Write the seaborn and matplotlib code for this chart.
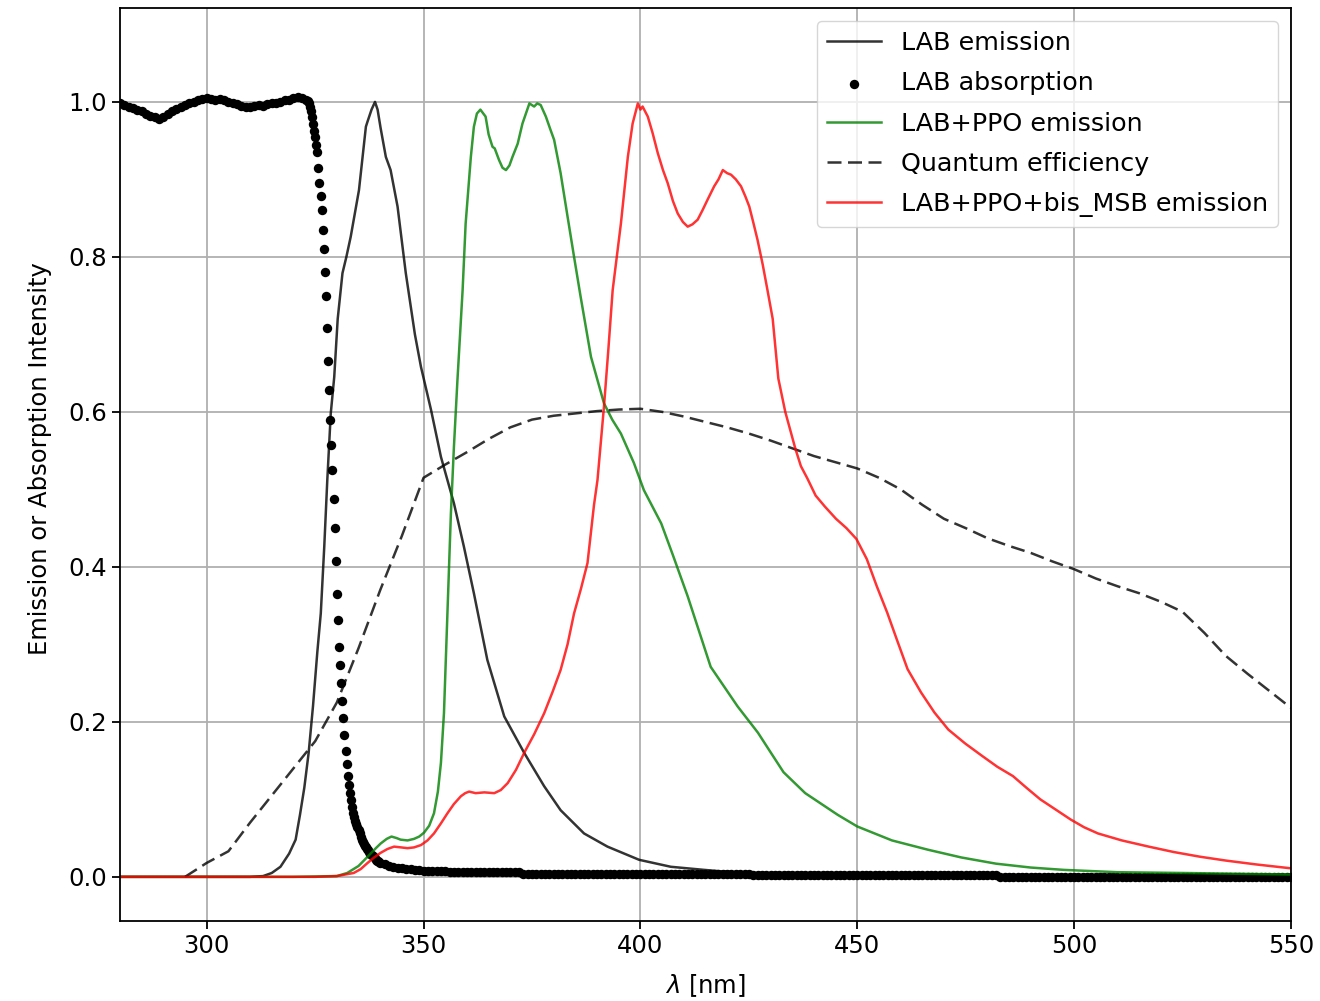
import numpy as np
import matplotlib
matplotlib.use("Agg")
import matplotlib.pyplot as plt
import seaborn as sns

# ---------------------------------------------------------------- data
# LAB emission
lab_em_wl = [280, 300, 310, 313, 315, 317, 319, 320.5, 321.5, 322.5, 323.5, 324.5,
             325.5, 326.3, 327.1, 327.8, 328.6, 329.4, 330.2, 331.3, 332.2, 333.2,
             335.1, 336.7, 337.1, 338.0, 338.8, 339.4, 340.1, 341.3, 342.4, 344.0,
             345.9, 348.0, 349.4, 351.7, 354.0, 355.9, 357.0, 359.3, 361.6, 364.7,
             368.6, 373.2, 377.8, 381.6, 387.0, 392.4, 399.7, 407.0, 414.7, 425.0,
             440.0, 460.0, 550.0]
lab_em = [0.0, 0.0, 0.0, 0.001, 0.005, 0.013, 0.03, 0.048, 0.08, 0.115, 0.16, 0.22,
          0.29, 0.34, 0.426, 0.512, 0.598, 0.645, 0.72, 0.779, 0.80, 0.826,
          0.886, 0.968, 0.975, 0.99, 1.0, 0.99, 0.966, 0.929, 0.912, 0.865,
          0.779, 0.70, 0.658, 0.603, 0.542, 0.504, 0.482, 0.426, 0.366, 0.28,
          0.207, 0.16, 0.117, 0.086, 0.056, 0.039, 0.022, 0.013, 0.009, 0.004,
          0.001, 0.0, 0.0]

# LAB absorption: plateau (1 nm), absorption edge (0.25 nm), tail (1 nm)
abs_wl_plateau = np.arange(280, 324, 1.0)
abs_plateau = [0.998, 0.996, 0.993, 0.992, 0.990, 0.988, 0.985, 0.982, 0.980, 0.978,
               0.980, 0.984, 0.988, 0.991, 0.994, 0.996, 0.998, 1.000, 1.002, 1.004,
               1.005, 1.004, 1.003, 1.004, 1.002, 1.000, 0.998, 0.997, 0.995, 0.993,
               0.993, 0.995, 0.996, 0.995, 0.997, 0.999, 0.998, 1.000, 1.002, 1.003,
               1.005, 1.006, 1.005, 1.003]
abs_wl_edge = np.arange(323.25, 340.01, 0.25)
abs_edge = [1.001, 0.998, 0.993, 0.988, 0.980, 0.972, 0.963, 0.955, 0.945, 0.935,
            0.915, 0.895, 0.878, 0.860, 0.835, 0.810, 0.780, 0.750, 0.708, 0.665,
            0.628, 0.590, 0.557, 0.525, 0.488, 0.450, 0.408, 0.365, 0.331, 0.297,
            0.273, 0.250, 0.227, 0.205, 0.183, 0.162, 0.146, 0.130, 0.119, 0.108,
            0.099, 0.090, 0.083, 0.077, 0.072, 0.068, 0.064, 0.060, 0.056, 0.052,
            0.048, 0.045, 0.043, 0.040, 0.038, 0.036, 0.034, 0.032, 0.030, 0.028,
            0.027, 0.025, 0.024, 0.022, 0.021, 0.020, 0.019, 0.018]
abs_wl_tail = np.arange(341, 551, 1.0)
abs_tail = [0.016, 0.014, 0.013, 0.012, 0.011, 0.010, 0.010, 0.009, 0.009, 0.008,
            0.008, 0.008, 0.007, 0.007, 0.007,
            0.006, 0.006, 0.006, 0.006, 0.006, 0.006, 0.006, 0.006, 0.006, 0.006,
            0.006, 0.006, 0.006, 0.006, 0.006, 0.006, 0.006,
            0.004, 0.004, 0.004, 0.004, 0.004, 0.004, 0.004, 0.004, 0.004, 0.004,
            0.004, 0.004, 0.004, 0.004, 0.004, 0.004, 0.004, 0.004, 0.004, 0.004,
            0.004, 0.004, 0.004, 0.004, 0.004, 0.004, 0.004, 0.004, 0.004, 0.004,
            0.004, 0.004, 0.004, 0.004, 0.004, 0.004, 0.004, 0.004, 0.004, 0.004,
            0.004, 0.004, 0.004, 0.004, 0.004, 0.004, 0.004, 0.004, 0.004, 0.004,
            0.004, 0.004, 0.004,
            0.002, 0.002, 0.002, 0.002, 0.002, 0.002, 0.002, 0.002, 0.002, 0.002,
            0.002, 0.002, 0.002, 0.002, 0.002, 0.002, 0.002, 0.002, 0.002, 0.002,
            0.002, 0.002, 0.002, 0.002, 0.002, 0.002, 0.002, 0.002, 0.002, 0.002,
            0.002, 0.002, 0.002, 0.002, 0.002, 0.002, 0.002, 0.002, 0.002, 0.002,
            0.002, 0.002, 0.002, 0.002, 0.002, 0.002, 0.002, 0.002, 0.002, 0.002,
            0.002, 0.002, 0.002, 0.002, 0.002, 0.002, 0.002,
            0.000, 0.000, 0.000, 0.000, 0.000, 0.000, 0.000, 0.000, 0.000, 0.000,
            0.000, 0.000, 0.000, 0.000, 0.000, 0.000, 0.000, 0.000, 0.000, 0.000,
            0.000, 0.000, 0.000, 0.000, 0.000, 0.000, 0.000, 0.000, 0.000, 0.000,
            0.000, 0.000, 0.000, 0.000, 0.000, 0.000, 0.000, 0.000, 0.000, 0.000,
            0.000, 0.000, 0.000, 0.000, 0.000, 0.000, 0.000, 0.000, 0.000, 0.000,
            0.000, 0.000, 0.000, 0.000, 0.000, 0.000, 0.000, 0.000, 0.000, 0.000,
            0.000, 0.000, 0.000, 0.000, 0.000, 0.000, 0.000, 0.000]

# LAB+PPO emission
ppo_wl = [280, 320, 330, 332.4, 335, 337.1, 339, 340.1, 341.5, 342.6, 343.8, 344.7,
          346.3, 347.8, 349.0, 350.1, 351.3, 352.4, 353.3, 354.0, 354.7, 355.5,
          356.3, 357.0, 357.8, 359.0, 359.7, 360.9, 361.6, 362.3, 363.1, 364.3,
          365.0, 365.5, 365.9, 366.4, 367.4, 368.2, 369.0, 369.8, 370.5, 371.7,
          372.8, 373.6, 374.4, 375.5, 376.2, 377.0, 378.2, 379.2, 380.1, 381.6,
          383.2, 384.7, 386.2, 388.6, 391.6, 393.5, 395.5, 398.5, 400.8, 404.8,
          407.5, 410.9, 416.2, 422.4, 427.1, 430.1, 433.0, 438.0, 445.5, 450.0,
          458.0, 466.3, 474.0, 482.0, 490.0, 497.6, 510.0, 525.0, 550.0]
ppo_em = [0.0, 0.0, 0.001, 0.005, 0.014, 0.026, 0.037, 0.043, 0.049, 0.052, 0.050, 0.048,
          0.047, 0.049, 0.052, 0.057, 0.066, 0.082, 0.11, 0.147, 0.211, 0.34,
          0.469, 0.555, 0.64, 0.757, 0.843, 0.929, 0.968, 0.985, 0.99, 0.981,
          0.958, 0.949, 0.942, 0.94, 0.925, 0.915, 0.912, 0.918, 0.929, 0.946,
          0.972, 0.985, 0.998, 0.994, 0.998, 0.996, 0.981, 0.965, 0.951, 0.908,
          0.852, 0.80, 0.749, 0.671, 0.611, 0.59, 0.572, 0.534, 0.499, 0.456,
          0.415, 0.362, 0.271, 0.22, 0.186, 0.16, 0.135, 0.108, 0.08, 0.065,
          0.047, 0.035, 0.025, 0.017, 0.012, 0.009, 0.006, 0.005, 0.003]

# Quantum efficiency
qe_wl = [295, 300, 305, 310, 315, 320, 325, 330, 335, 340, 345, 350, 355, 360, 365,
         370, 375, 380, 385, 390, 395, 400, 405, 410, 415, 420, 425, 430, 435, 440,
         445, 450, 455, 460, 465, 470, 475, 480, 485, 490, 495, 500, 505, 510, 515,
         520, 525, 530, 535, 540, 545, 550]
qe = [0.0, 0.018, 0.033, 0.07, 0.105, 0.14, 0.175, 0.225, 0.295, 0.37, 0.44, 0.515,
      0.532, 0.548, 0.565, 0.58, 0.59, 0.595, 0.598, 0.601, 0.603, 0.604, 0.600,
      0.594, 0.587, 0.58, 0.572, 0.563, 0.553, 0.543, 0.535, 0.527, 0.515, 0.50,
      0.48, 0.462, 0.45, 0.437, 0.427, 0.418, 0.407, 0.397, 0.385, 0.375, 0.366,
      0.355, 0.342, 0.315, 0.285, 0.262, 0.24, 0.218]

# LAB+PPO+bis_MSB emission
msb_wl = [280, 325, 330, 333.9, 335.5, 337.1, 338.6, 340.1, 341.7, 343.2, 344.8,
          346.3, 347.8, 349.4, 350.9, 352.4, 354.0, 355.5, 357.0, 358.6, 359.6,
          360.5, 362.0, 364.0, 366.3, 367.8, 369.4, 371.3, 373.2, 375.5, 377.8,
          379.7, 381.6, 383.2, 384.7, 386.3, 387.8, 389.3, 390.1, 391.6, 392.6,
          393.6, 395.5, 397.1, 398.2, 399.4, 400.0, 400.5, 401.7, 402.8, 404.0,
          405.2, 406.3, 407.5, 408.6, 409.8, 410.9, 412.0, 413.2, 414.3, 415.5,
          417.0, 418.0, 419.0, 420.0, 420.9, 422.0, 423.2, 424.2, 425.1, 426.0,
          427.0, 428.2, 429.3, 430.5, 431.8, 433.4, 435.7, 437.0, 438.5, 440.4,
          442.5, 445.1, 447.5, 449.8, 452.2, 454.5, 456.9, 459.2, 461.6, 464.7,
          467.8, 471.0, 474.9, 478.8, 482.3, 485.9, 489.0, 492.2, 495.7, 499.2,
          502.3, 505.5, 511.0, 517.2, 523.0, 529.0, 535.0, 542.0, 550.0]
msb_em = [0.0, 0.0, 0.001, 0.005, 0.010, 0.018, 0.025, 0.031, 0.036, 0.039, 0.038,
          0.037, 0.038, 0.041, 0.047, 0.056, 0.069, 0.082, 0.094, 0.104, 0.108,
          0.110, 0.108, 0.109, 0.108, 0.112, 0.121, 0.138, 0.160, 0.184, 0.211,
          0.238, 0.267, 0.300, 0.340, 0.372, 0.405, 0.480, 0.512, 0.607, 0.680,
          0.757, 0.843, 0.929, 0.972, 0.998, 0.990, 0.994, 0.981, 0.960, 0.934,
          0.912, 0.895, 0.872, 0.856, 0.845, 0.839, 0.842, 0.848, 0.860, 0.874,
          0.891, 0.900, 0.912, 0.908, 0.906, 0.900, 0.891, 0.878, 0.865, 0.845,
          0.822, 0.790, 0.757, 0.720, 0.643, 0.600, 0.553, 0.530, 0.514, 0.492,
          0.478, 0.462, 0.450, 0.436, 0.410, 0.375, 0.341, 0.305, 0.268, 0.238,
          0.212, 0.190, 0.172, 0.156, 0.142, 0.130, 0.115, 0.100, 0.087, 0.074,
          0.064, 0.056, 0.047, 0.039, 0.032, 0.026, 0.021, 0.016, 0.011]

abs_wl = np.concatenate([abs_wl_plateau, abs_wl_edge, abs_wl_tail])
abs_val = np.concatenate([abs_plateau, abs_edge, abs_tail])

# ---------------------------------------------------------------- figure
plt.rcParams.update({
    "font.family": ["DejaVu Sans"],
    "font.size": 17.5,
    "axes.linewidth": 1.3,
    "xtick.major.width": 1.3,
    "ytick.major.width": 1.3,
    "xtick.major.size": 6,
    "ytick.major.size": 6,
    "grid.color": "#b0b0b0",
    "grid.linewidth": 1.3,
})

fig = plt.figure(figsize=(13.2, 10.01), dpi=100)
ax = fig.add_axes([0.0909, 0.0799, 0.8871, 0.912])

line_kw = dict(ax=ax, sort=False, estimator=None, linewidth=1.8, alpha=0.8)

sns.lineplot(x=lab_em_wl, y=lab_em, color="k", label="LAB emission", **line_kw)
sns.scatterplot(x=abs_wl, y=abs_val, color="k", s=46, linewidth=0,
                label="LAB absorption", ax=ax)
sns.lineplot(x=ppo_wl, y=ppo_em, color="g", label="LAB+PPO emission", **line_kw)
sns.lineplot(x=qe_wl, y=qe, color="k", linestyle=(0, (5.6, 2.6)),
             label="Quantum efficiency", **line_kw)
sns.lineplot(x=msb_wl, y=msb_em, color="r", label="LAB+PPO+bis_MSB emission",
             **line_kw)

ax.set_xlim(280, 550)
ax.set_ylim(-0.057, 1.121)
ax.set_xticks([300, 350, 400, 450, 500, 550])
ax.set_yticks([0.0, 0.2, 0.4, 0.6, 0.8, 1.0])
ax.grid(True)
ax.set_axisbelow(True)

ax.set_xlabel(r"$\lambda$ [nm]", labelpad=10)
ax.set_ylabel("Emission or Absorption Intensity")
ax.yaxis.set_label_coords(-0.058, 0.507)

ax.legend(loc="upper right", fontsize=18.3, handlelength=2.1, framealpha=0.8,
          labelspacing=0.64)

fig.savefig("out.png", dpi=100)
